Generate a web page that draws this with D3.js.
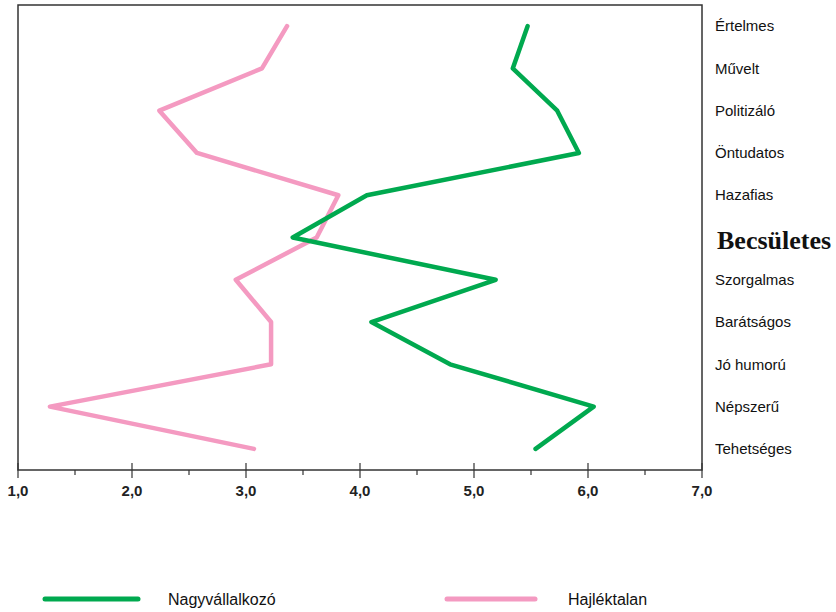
<!DOCTYPE html>
<html>
<head>
<meta charset="utf-8">
<script src="https://cdn.jsdelivr.net/npm/d3@7"></script>
<style>
  body { margin: 0; background: #fff; }
  svg { display: block; }
</style>
</head>
<body>
<svg id="chart" width="836" height="612"></svg>
<script>
// traits, top to bottom
const traits = ["Értelmes", "Művelt", "Politizáló", "Öntudatos", "Hazafias", "Becsületes",
  "Szorgalmas", "Barátságos", "Jó humorú", "Népszerű", "Tehetséges"];
const nagyvallalkozo = [5.47, 5.34, 5.73, 5.92, 4.06, 3.41, 5.19, 4.10, 4.79, 6.05, 5.54];
const hajlektalan = [3.36, 3.14, 2.24, 2.57, 3.81, 3.62, 2.91, 3.22, 3.22, 1.28, 3.07];
const xTicks = [1, 2, 3, 4, 5, 6, 7];
const xMinorTicks = [1.5, 2.5, 3.5, 4.5, 5.5, 6.5];
const seriesNames = ["Nagyvállalkozó", "Hajléktalan"];
const highlightTrait = "Becsületes";

const green = "#00a94f", pink = "#f49ac1";
const plot = { left: 18, top: 5, right: 702, bottom: 470 };

const svg = d3.select("#chart");
const x = d3.scaleLinear().domain([1, 7]).range([plot.left, plot.right]);
const y = d3.scalePoint().domain(traits).range([plot.top, plot.bottom]).padding(0.5);

// frame
svg.append("rect")
  .attr("x", plot.left).attr("y", plot.top)
  .attr("width", plot.right - plot.left).attr("height", plot.bottom - plot.top)
  .attr("fill", "none").attr("stroke", "#333").attr("stroke-width", 1.5);

// ticks
const axisg = svg.append("g");
axisg.selectAll("line.major").data(xTicks).join("line").attr("class", "major")
  .attr("x1", d => x(d)).attr("x2", d => x(d))
  .attr("y1", plot.bottom - 7).attr("y2", plot.bottom + 8)
  .attr("stroke", "#333").attr("stroke-width", 1.2);
axisg.selectAll("line.minor").data(xMinorTicks).join("line").attr("class", "minor")
  .attr("x1", d => x(d)).attr("x2", d => x(d))
  .attr("y1", plot.bottom).attr("y2", plot.bottom + 5)
  .attr("stroke", "#333").attr("stroke-width", 1.2);
axisg.selectAll("text").data(xTicks).join("text")
  .attr("x", d => x(d)).attr("y", 496)
  .attr("text-anchor", "middle")
  .style("font-family", "'Liberation Sans', Arial, sans-serif")
  .style("font-weight", "bold").style("font-size", "15px").attr("fill", "#222")
  .text(d => d3.format(".1f")(d).replace(".", ","));

// trait labels
svg.append("g").selectAll("text").data(traits).join("text")
  .attr("x", d => d === highlightTrait ? 717 : 715)
  .attr("y", d => d === highlightTrait ? y(d) + 2 : y(d))
  .attr("dy", "0.35em")
  .style("font-family", d => d === highlightTrait ? "'Liberation Serif', 'Times New Roman', serif" : "'Liberation Sans', Arial, sans-serif")
  .style("font-weight", d => d === highlightTrait ? "bold" : "normal")
  .style("font-size", d => d === highlightTrait ? "26px" : "15px")
  .attr("fill", "#111")
  .text(d => d);

// lines
const line = d3.line().x(d => x(d.v)).y(d => y(d.t));
[[hajlektalan, pink], [nagyvallalkozo, green]].forEach(([vals, col]) => {
  svg.append("path")
    .datum(vals.map((v, i) => ({ t: traits[i], v })))
    .attr("d", line)
    .attr("fill", "none").attr("stroke", col)
    .attr("stroke-width", 4.5)
    .attr("stroke-linejoin", "round").attr("stroke-linecap", "round");
});

// legend
const legend = [
  { name: seriesNames[0], col: green, x1: 45, x2: 138, tx: 168 },
  { name: seriesNames[1], col: pink, x1: 447, x2: 535, tx: 568 }
];
const lg = svg.append("g").selectAll("g").data(legend).join("g");
lg.append("line")
  .attr("x1", d => d.x1).attr("x2", d => d.x2).attr("y1", 599).attr("y2", 599)
  .attr("stroke", d => d.col).attr("stroke-width", 5).attr("stroke-linecap", "round");
lg.append("text")
  .attr("x", d => d.tx).attr("y", 599).attr("dy", "0.35em")
  .style("font-family", "'Liberation Sans', Arial, sans-serif").style("font-size", "16px")
  .attr("fill", "#111")
  .text(d => d.name);
</script>
</body>
</html>
